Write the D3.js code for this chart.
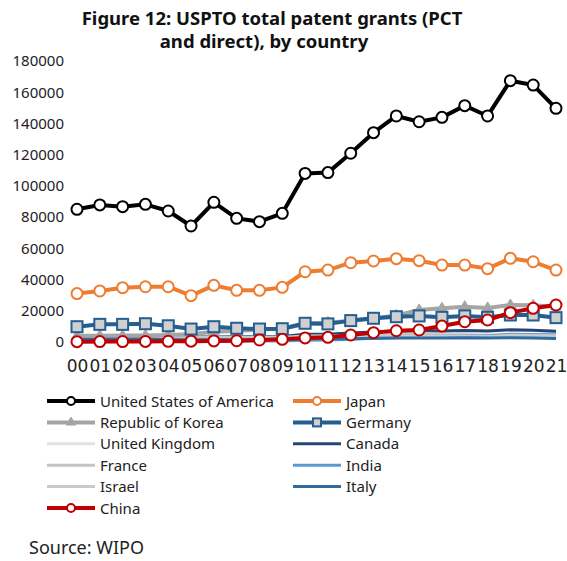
<!DOCTYPE html>
<html>
<head>
<meta charset="utf-8" />
<title>USPTO total patent grants</title>
<style>
body { margin: 0; background: #fff; }
text { font-family: "Noto Sans", sans-serif; fill: #222; }
.title { font-weight: bold; font-size: 18.5px; fill: #111; }
.legend text { font-size: 15px; }
</style>
</head>
<body>
<script src="https://cdn.jsdelivr.net/npm/d3@7"></script>
<script>
var years = ["00","01","02","03","04","05","06","07","08","09","10","11","12","13","14","15","16","17","18","19","20","21"];
var yTicks = [0, 20000, 40000, 60000, 80000, 100000, 120000, 140000, 160000, 180000];

var usa     = [85000, 87800, 86700, 88200, 83900, 74300, 89500, 79200, 77100, 82400, 108000, 108500, 120900, 134100, 144800, 141100, 143900, 151400, 144800, 167400, 164600, 149700];
var japan   = [31000, 32700, 34800, 35400, 35400, 29700, 36300, 33100, 33100, 35000, 45000, 46100, 50800, 51900, 53400, 52100, 49300, 49300, 47000, 53600, 51400, 46100];
var korea   = [4000, 4000, 4100, 4200, 4500, 5000, 6500, 7000, 8000, 8500, 11500, 12500, 13500, 15000, 17000, 20500, 21600, 22600, 21800, 23700, 23500, 22500];
var germany = [9800, 11300, 11300, 11700, 10400, 8300, 9800, 8800, 8300, 8500, 12000, 11600, 13700, 15200, 16200, 16700, 15800, 16700, 15800, 17300, 17300, 15600];
var uk      = [3800, 3900, 3800, 3700, 3500, 3200, 3600, 3500, 3400, 3500, 4600, 4900, 5600, 6400, 6900, 7100, 7100, 7400, 7000, 7600, 7300, 6700];
var canada  = [3600, 3700, 3700, 3700, 3500, 3100, 3600, 3300, 3400, 3600, 4900, 5000, 5700, 6400, 7000, 7300, 7100, 7300, 7000, 7800, 7600, 6900];
var france  = [3800, 4000, 4000, 3900, 3400, 2900, 3400, 3100, 3100, 3100, 3900, 4000, 4300, 4500, 4700, 4900, 4700, 4700, 4300, 4600, 4400, 4000];
var india   = [130, 180, 250, 340, 360, 380, 480, 550, 630, 680, 1100, 1250, 1700, 2400, 2800, 3300, 3700, 4000, 4000, 5000, 4800, 4700];
var israel  = [800, 1000, 1000, 1100, 1100, 900, 1100, 1000, 1200, 1400, 1900, 2000, 2500, 3000, 3500, 3600, 3700, 3900, 3600, 4300, 4200, 4000];
var italy   = [1700, 1700, 1800, 1800, 1600, 1300, 1600, 1400, 1500, 1500, 1900, 2000, 2100, 2400, 2600, 2600, 2500, 2700, 2500, 2800, 2600, 2300];
var china   = [200, 250, 300, 400, 450, 550, 700, 800, 1300, 1700, 2600, 3000, 4500, 6000, 7200, 7700, 10200, 13000, 14100, 18800, 21600, 23700];

var series = [
  { name: "United States of America", values: usa,     color: "#000000", width: 4, marker: "circle", mstroke: "#000000", mfill: "#ffffff", r: 5.5 },
  { name: "Japan",                    values: japan,   color: "#ED7D31", width: 4, marker: "circle", mstroke: "#ED7D31", mfill: "#ffffff", r: 5.5 },
  { name: "Republic of Korea",        values: korea,   color: "#A5A5A5", width: 4, marker: "triangle", mstroke: "#A5A5A5", mfill: "#A5A5A5", r: 4 },
  { name: "Germany",                  values: germany, color: "#255E91", width: 4, marker: "square", mstroke: "#255E91", mfill: "#D0D0D0", r: 5.5 },
  { name: "United Kingdom",           values: uk,      color: "#E2E2E2", width: 3 },
  { name: "Canada",                   values: canada,  color: "#264478", width: 3 },
  { name: "France",                   values: france,  color: "#C4C4C4", width: 3 },
  { name: "India",                    values: india,   color: "#5B9BD5", width: 3 },
  { name: "Israel",                   values: israel,  color: "#CACACA", width: 3 },
  { name: "Italy",                    values: italy,   color: "#2E6BA3", width: 3 },
  { name: "China",                    values: china,   color: "#C00000", width: 4, marker: "circle", mstroke: "#C00000", mfill: "#ffffff", r: 5.5 }
];

var width = 567, height = 561;

var svg = d3.select("body").append("svg")
    .attr("width", width)
    .attr("height", height);

svg.append("text").attr("class", "title")
    .attr("x", 272).attr("y", 25).attr("text-anchor", "middle")
    .text("Figure 12: USPTO total patent grants (PCT");
svg.append("text").attr("class", "title")
    .attr("x", 264).attr("y", 48).attr("text-anchor", "middle")
    .text("and direct), by country");

var x = d3.scalePoint().domain(years).range([77, 556]);
var y = d3.scaleLinear().domain([0, 180000]).range([342, 61]);

// y axis (no line, no ticks)
var yAxis = svg.append("g")
    .attr("transform", "translate(64,0)")
    .call(d3.axisLeft(y).tickValues(yTicks).tickSize(0).tickPadding(0).tickFormat(d3.format("d")));
yAxis.select(".domain").remove();
yAxis.selectAll("text")
    .style("font-family", "'Noto Sans', sans-serif")
    .style("font-size", "15px").attr("fill", "#222");

// x axis
var xAxis = svg.append("g")
    .attr("transform", "translate(0,360)")
    .call(d3.axisBottom(x).tickSize(0).tickPadding(0));
xAxis.select(".domain").remove();
xAxis.selectAll("text")
    .style("font-family", "'DejaVu Sans', sans-serif")
    .style("font-size", "17px").attr("fill", "#222");

var line = d3.line()
    .x(function(d, i) { return x(years[i]); })
    .y(function(d) { return y(d); });

function drawMarker(g, s, cx, cy) {
  if (s.marker === "circle") {
    g.append("circle").attr("cx", cx).attr("cy", cy).attr("r", s.r)
      .attr("fill", s.mfill).attr("stroke", s.mstroke).attr("stroke-width", 2);
  } else if (s.marker === "square") {
    g.append("rect").attr("x", cx - s.r).attr("y", cy - s.r)
      .attr("width", s.r * 2).attr("height", s.r * 2)
      .attr("fill", s.mfill).attr("stroke", s.mstroke).attr("stroke-width", 2);
  } else if (s.marker === "triangle") {
    g.append("path")
      .attr("d", d3.symbol().type(d3.symbolTriangle).size(s.r * s.r * 3)())
      .attr("transform", "translate(" + cx + "," + cy + ")")
      .attr("fill", s.mfill).attr("stroke", s.mstroke).attr("stroke-width", 1);
  }
}

// thin series first, then the main ones
var order = [4, 5, 6, 7, 8, 9, 2, 3, 1, 0, 10];
order.forEach(function(k) {
  var s = series[k];
  var g = svg.append("g");
  g.append("path")
    .attr("d", line(s.values))
    .attr("fill", "none")
    .attr("stroke", s.color)
    .attr("stroke-width", s.width)
    .attr("stroke-linejoin", "round");
  if (s.marker) {
    s.values.forEach(function(v, i) { drawMarker(g, s, x(years[i]), y(v)); });
  }
});

// legend
var legend = svg.append("g").attr("class", "legend");
series.forEach(function(s, i) {
  var col = i === 10 ? 0 : i % 2;
  var row = Math.floor(i / 2);
  var lx = col === 0 ? 47 : 293;
  var ly = 401 + row * 21.4;
  var g = legend.append("g");
  g.append("line").attr("x1", lx).attr("x2", lx + 48).attr("y1", ly).attr("y2", ly)
    .attr("stroke", s.color).attr("stroke-width", s.width);
  if (s.marker) {
    var ms = Object.assign({}, s, { r: s.marker === "triangle" ? 3.5 : 4 });
    drawMarker(g, ms, lx + 24, ly);
  }
  g.append("text").attr("x", lx + 53).attr("y", ly + 5.5).text(s.name);
});

svg.append("text")
    .attr("x", 29).attr("y", 554)
    .style("font-size", "18px")
    .text("Source: WIPO");
</script>
</body>
</html>
